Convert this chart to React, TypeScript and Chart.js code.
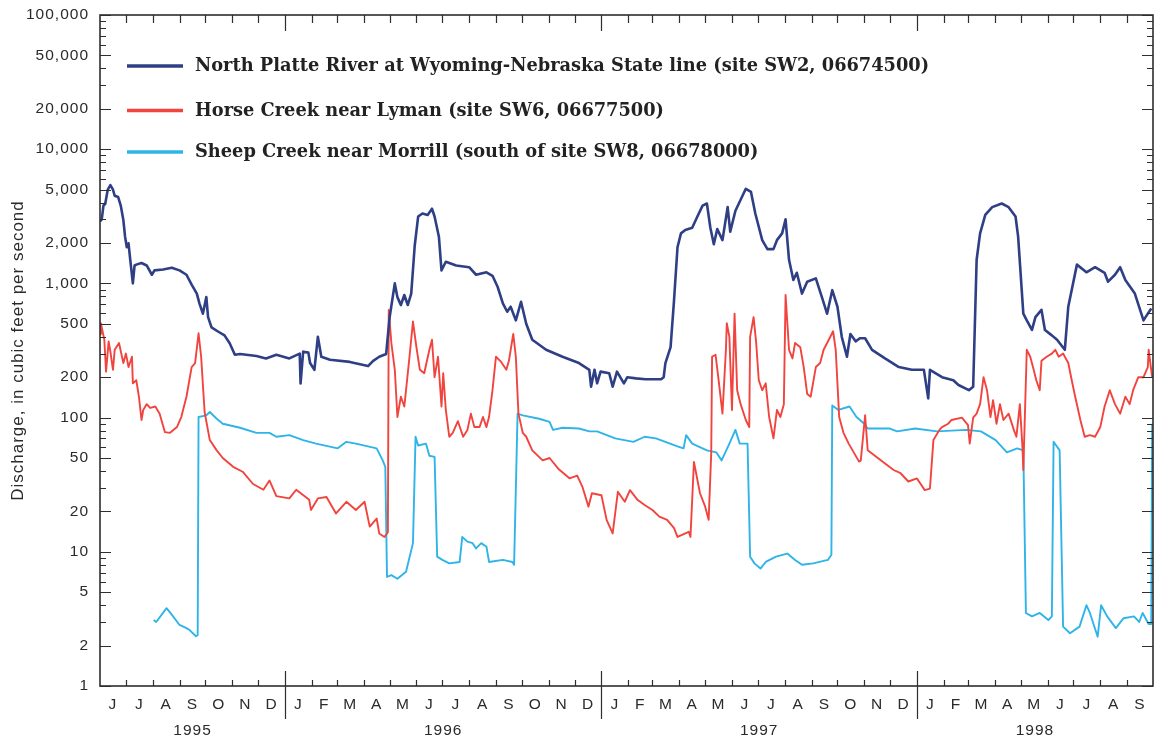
import React, { useEffect, useRef } from 'react';
import { Chart, registerables } from 'chart.js';

Chart.register(...registerables);

// Day numbers are counted from 1 June 1995 (day 0); values in cubic feet per second.
const northPlatte: number[][] = [
  [0, 2900], [2, 3000], [4, 3800], [6, 3900], [9, 5000], [12, 5400], [15, 5000], [17, 4500], [21, 4400], [24, 3800],
  [27, 2970], [29, 2230], [31, 1860], [33, 1990], [35, 1500], [38, 1000], [40, 1360], [42, 1380], [48, 1420], [54, 1360],
  [60, 1160], [63, 1250], [73, 1270], [83, 1310], [92, 1250], [100, 1160], [106, 980], [112, 840], [115, 710], [119, 595],
  [123, 790], [125, 560], [129, 470], [136, 440], [144, 410], [150, 358], [156, 294], [162, 298], [181, 288], [192, 276],
  [204, 294], [219, 276], [231, 300], [232, 180], [235, 310], [241, 305], [243, 255], [248, 227], [252, 400], [256, 284],
  [266, 270], [289, 260], [310, 242], [316, 265], [323, 284], [331, 298], [335, 560], [341, 1000], [344, 790], [348, 690],
  [352, 820], [356, 690], [360, 840], [364, 1900], [368, 3150], [373, 3320], [379, 3240], [384, 3600], [387, 3150], [392, 2230],
  [395, 1250], [400, 1450], [412, 1360], [427, 1320], [435, 1160], [447, 1210], [454, 1140], [460, 940], [466, 710], [471, 615],
  [475, 670], [481, 530], [487, 730], [493, 500], [500, 380], [516, 320], [535, 284], [554, 255], [566, 227], [568, 170],
  [572, 227], [575, 180], [579, 220], [589, 214], [593, 170], [598, 220], [606, 180], [610, 200], [620, 196], [631, 193],
  [649, 193], [652, 200], [654, 255], [660, 335], [664, 750], [668, 1860], [672, 2360], [677, 2500], [685, 2600], [691, 3150],
  [697, 3800], [702, 3940], [706, 2600], [710, 1960], [714, 2540], [720, 2100], [726, 3700], [729, 2430], [735, 3480], [741, 4200],
  [747, 5070], [753, 4800], [758, 3320], [766, 2100], [772, 1800], [779, 1800], [783, 2100], [789, 2360], [793, 3000], [797, 1500],
  [802, 1060], [806, 1200], [812, 840], [818, 1030], [828, 1090], [835, 790], [841, 595], [847, 890], [853, 670], [858, 400],
  [864, 284], [868, 420], [874, 370], [879, 390], [885, 390], [893, 320], [908, 276], [924, 238], [939, 227], [953, 227],
  [958, 139], [960, 227], [974, 200], [987, 190], [993, 175], [1005, 160], [1010, 170], [1014, 1500], [1018, 2360], [1024, 3240],
  [1032, 3700], [1043, 3940], [1051, 3700], [1059, 3150], [1062, 2230], [1068, 595], [1072, 530], [1078, 450], [1082, 560], [1089, 635],
  [1093, 450], [1101, 410], [1107, 380], [1116, 320], [1120, 670], [1130, 1380], [1141, 1210], [1151, 1320], [1162, 1200], [1166, 1030],
  [1174, 1160], [1180, 1320], [1186, 1060], [1197, 840], [1207, 530], [1212, 595], [1216, 650],
];

const horseCreek: number[][] = [
  [0, 420], [1, 505], [5, 380], [7, 220], [10, 370], [12, 310], [15, 227], [17, 320], [22, 360], [27, 255],
  [30, 300], [33, 238], [37, 284], [38, 180], [42, 190], [45, 143], [48, 96], [50, 114], [54, 126], [58, 118],
  [64, 121], [69, 107], [75, 78], [81, 77], [89, 85], [94, 101], [100, 143], [106, 238], [110, 255], [114, 425],
  [117, 284], [121, 110], [127, 68], [135, 57], [142, 50], [154, 43], [165, 39.5], [177, 32], [189, 29], [196, 34],
  [204, 26], [219, 25], [227, 29], [242, 24.4], [244, 20.5], [252, 25], [262, 25.6], [273, 19.3], [285, 23.6], [296, 20.5],
  [306, 23.6], [312, 15.4], [320, 17.7], [323, 13.7], [329, 12.9], [333, 14], [334, 635], [337, 360], [341, 227], [344, 101],
  [348, 143], [352, 121], [358, 284], [362, 520], [366, 335], [370, 227], [375, 214], [381, 320], [384, 380], [387, 200],
  [391, 284], [395, 121], [397, 214], [400, 114], [404, 72], [408, 77], [414, 94], [420, 72], [425, 81], [429, 107],
  [433, 85], [439, 85], [443, 101], [447, 85], [450, 101], [454, 160], [458, 284], [464, 260], [470, 227], [473, 265],
  [478, 420], [481, 284], [484, 107], [489, 77], [493, 72], [500, 57], [512, 48], [520, 50], [531, 41], [543, 35.3],
  [552, 37], [558, 30.5], [565, 21.7], [569, 27.3], [580, 26.4], [586, 17.3], [593, 13.7], [599, 28], [607, 23.6], [613, 28.8],
  [622, 24.3], [630, 22.3], [639, 20.5], [647, 18.3], [656, 17.3], [664, 15], [668, 12.9], [681, 14.1], [683, 12.9], [687, 46.8],
  [694, 27.3], [700, 21.7], [704, 17.3], [707, 54], [708, 284], [712, 294], [716, 180], [720, 107], [724, 320], [725, 505],
  [728, 400], [731, 114], [734, 595], [737, 160], [741, 126], [747, 96], [751, 85], [752, 400], [756, 560], [759, 360],
  [762, 190], [766, 160], [770, 180], [774, 101], [779, 70], [783, 114], [787, 101], [791, 126], [793, 820], [797, 320],
  [801, 276], [804, 360], [810, 335], [814, 238], [818, 150], [822, 143], [826, 200], [828, 238], [833, 255], [837, 320],
  [843, 380], [848, 440], [851, 320], [855, 101], [860, 77], [866, 64], [878, 47], [880, 48], [885, 104], [888, 57],
  [905, 47], [918, 40.7], [926, 38.5], [935, 33.4], [945, 35.2], [954, 28.8], [960, 29.6], [964, 68], [971, 81], [974, 85],
  [981, 90], [985, 96], [997, 100], [1004, 88], [1006, 64], [1010, 100], [1014, 107], [1018, 126], [1022, 200], [1026, 160],
  [1030, 101], [1033, 135], [1037, 90], [1041, 126], [1045, 96], [1051, 107], [1057, 81], [1060, 72], [1064, 126], [1067, 60],
  [1068, 40.7], [1072, 320], [1076, 284], [1080, 227], [1083, 190], [1087, 160], [1089, 265], [1095, 284], [1101, 300], [1105, 320],
  [1109, 284], [1114, 300], [1120, 255], [1124, 190], [1128, 143], [1134, 96], [1139, 72], [1145, 74], [1151, 72], [1157, 85],
  [1162, 121], [1168, 160], [1174, 126], [1180, 107], [1186, 143], [1191, 126], [1195, 160], [1201, 200], [1207, 200], [1212, 238],
  [1213, 320], [1217, 200],
];

const sheepCreek: number[][] = [
  [62, 3.1], [65, 3.0], [77, 3.8], [83, 3.4], [92, 2.85], [100, 2.7], [104, 2.6], [111, 2.35], [113, 2.4], [114, 101],
  [123, 104], [127, 110], [135, 98], [142, 90], [162, 84], [181, 77], [196, 77], [204, 72], [219, 74], [235, 68],
  [250, 64], [275, 59], [285, 66], [296, 64], [320, 59], [327, 48], [330, 43], [332, 6.5], [337, 6.7], [344, 6.3],
  [354, 7.1], [362, 11.6], [365, 72], [368, 62], [377, 64], [381, 52], [387, 51], [390, 9.2], [396, 8.7], [404, 8.2],
  [416, 8.4], [419, 12.9], [425, 11.9], [431, 11.6], [435, 10.6], [441, 11.6], [447, 10.9], [450, 8.4], [466, 8.7], [477, 8.4],
  [479, 8.0], [483, 107], [489, 104], [508, 98], [520, 93], [524, 81], [535, 84], [554, 83], [566, 79], [575, 79],
  [596, 70], [617, 66], [630, 72], [643, 70], [668, 61], [675, 59], [678, 74], [685, 64], [702, 57], [713, 55],
  [719, 48], [728, 64], [735, 81], [740, 64], [749, 64], [752, 9.2], [757, 8.2], [764, 7.5], [770, 8.4], [782, 9.2],
  [795, 9.7], [804, 8.7], [812, 8.0], [825, 8.2], [842, 8.7], [846, 9.5], [847, 123], [854, 114], [867, 121], [875, 101],
  [884, 90], [888, 83], [913, 83], [922, 79], [943, 83], [968, 79], [1002, 81], [1019, 79], [1036, 68], [1049, 55],
  [1061, 59], [1068, 57], [1071, 3.5], [1078, 3.3], [1087, 3.5], [1097, 3.1], [1101, 3.3], [1103, 66], [1110, 57], [1114, 2.77],
  [1122, 2.47], [1133, 2.77], [1141, 4.0], [1145, 3.5], [1154, 2.33], [1158, 4.0], [1165, 3.3], [1175, 2.7], [1184, 3.2], [1196, 3.3],
  [1202, 3.0], [1206, 3.5], [1213, 2.9], [1216, 2.9], [1217, 90],
];

const seriesNames = [
  'North Platte River at Wyoming-Nebraska State line (site SW2, 06674500)',
  'Horse Creek near Lyman (site SW6, 06677500)',
  'Sheep Creek near Morrill (south of site SW8, 06678000)',
];

const monthLabels = [
  'J', 'J', 'A', 'S', 'O', 'N', 'D',
  'J', 'F', 'M', 'A', 'M', 'J', 'J', 'A', 'S', 'O', 'N', 'D',
  'J', 'F', 'M', 'A', 'M', 'J', 'J', 'A', 'S', 'O', 'N', 'D',
  'J', 'F', 'M', 'A', 'M', 'J', 'J', 'A', 'S',
];
const yearLabels = ['1995', '1996', '1997', '1998'];
const yLabelledTicks = [1, 2, 5, 10, 20, 50, 100, 200, 500, 1000, 2000, 5000, 10000, 20000, 50000, 100000];
const yAxisTitle = 'Discharge, in cubic feet per second';

// ---- derived helpers ----
const START = Date.UTC(1995, 5, 1);
const DAY = 86400000;
const monthStarts: number[] = [];
for (let i = 0; i <= monthLabels.length; i++) {
  const y = 1995 + Math.floor((5 + i) / 12);
  const m = (5 + i) % 12;
  monthStarts.push((Date.UTC(y, m, 1) - START) / DAY);
}
const X_MAX = monthStarts[monthStarts.length - 1];
const monthMids = monthLabels.map((_, i) => (monthStarts[i] + monthStarts[i + 1]) / 2);
const yearStarts = [0, ...monthStarts.filter((d, i) => i > 0 && i < monthLabels.length && (5 + i) % 12 === 0), X_MAX];
const yearMids = yearLabels.map((_, i) => (yearStarts[i] + yearStarts[i + 1]) / 2);
const yAllTicks: number[] = [];
for (let e = 0; e < 5; e++) for (let m = 1; m <= 9; m++) yAllTicks.push(m * Math.pow(10, e));
yAllTicks.push(100000);

const AXIS = '#2e2e2e';
const TEXT = '#2a2a2a';
const SANS = "'Liberation Sans', Arial, sans-serif";
const COLORS = ['#2e3f86', '#f2443e', '#2fb4e8'];

const framePlugin = {
  id: 'frameTicks',
  beforeDraw(chart: any) {
    chart.ctx.letterSpacing = '1px';
  },
  afterDatasetsDraw(chart: any) {
    const { ctx, chartArea: a, scales } = chart;
    const xs = scales.x;
    const ys = scales.y;
    ctx.save();
    ctx.letterSpacing = '0px';
    ctx.strokeStyle = AXIS;
    ctx.lineWidth = 1.6;
    ctx.strokeRect(a.left, a.top, a.right - a.left, a.bottom - a.top);
    ctx.lineWidth = 1.2;
    ctx.beginPath();
    yAllTicks.forEach((v) => {
      const py = Math.round(ys.getPixelForValue(v)) + 0.5;
      const len = yLabelledTicks.includes(v) ? 11 : 6;
      ctx.moveTo(a.left, py);
      ctx.lineTo(a.left + len, py);
      ctx.moveTo(a.right, py);
      ctx.lineTo(a.right - len, py);
    });
    for (let i = 1; i < monthLabels.length; i++) {
      const px = Math.round(xs.getPixelForValue(monthStarts[i])) + 0.5;
      const isYear = (5 + i) % 12 === 0;
      if (isYear) {
        ctx.moveTo(px, a.bottom - 15);
        ctx.lineTo(px, a.bottom + 33);
      } else {
        ctx.moveTo(px, a.bottom);
        ctx.lineTo(px, a.bottom - 6);
      }
      ctx.moveTo(px, a.top);
      ctx.lineTo(px, a.top + (isYear ? 16 : 8));
    }
    ctx.stroke();
    ctx.restore();
  },
  afterDraw(chart: any) {
    // series key drawn inside the plot, top-left
    const { ctx, chartArea: a } = chart;
    const rowOffsets = [51, 95.5, 137];
    ctx.save();
    ctx.letterSpacing = '0px';
    chart.data.datasets.forEach((ds: any, i: number) => {
      const y = a.top + rowOffsets[i];
      ctx.strokeStyle = ds.borderColor;
      ctx.lineWidth = 3.5;
      ctx.beginPath();
      ctx.moveTo(a.left + 27, y);
      ctx.lineTo(a.left + 83, y);
      ctx.stroke();
      ctx.fillStyle = '#222';
      ctx.font = "bold 17.8px 'DejaVu Serif', serif";
      ctx.textBaseline = 'middle';
      ctx.textAlign = 'left';
      ctx.fillText(ds.label, a.left + 95, y + 0.5);
    });
    ctx.restore();
  },
};

const mk = (pairs: number[][]) => pairs.map(([d, v]) => ({ x: d, y: v }));

export default function App() {
  const ref = useRef<HTMLCanvasElement>(null);
  useEffect(() => {
    const widths = [2.6, 1.9, 1.9];
    const all = [northPlatte, horseCreek, sheepCreek];
    const chart = new Chart(ref.current as HTMLCanvasElement, {
      type: 'line',
      data: {
        datasets: all.map((s, i) => ({
          label: seriesNames[i],
          data: mk(s),
          borderColor: COLORS[i],
          backgroundColor: COLORS[i],
          borderWidth: widths[i],
          pointRadius: 0,
          tension: 0,
          fill: false,
          borderJoinStyle: 'round',
        })),
      },
      options: {
        responsive: false,
        animation: false,
        events: [],
        layout: { padding: { left: 0, top: 15, right: 2, bottom: 0 } },
        plugins: {
          tooltip: { enabled: false },
          legend: { display: false },
        },
        scales: {
          x: {
            type: 'linear',
            position: 'bottom',
            weight: 0,
            min: 0,
            max: X_MAX,
            afterBuildTicks: (s: any) => { s.ticks = monthMids.map((v) => ({ value: v })); },
            afterFit: (s: any) => { s.height = 27; },
            grid: { display: false },
            border: { display: false },
            ticks: {
              autoSkip: false,
              maxRotation: 0,
              padding: 1,
              color: TEXT,
              font: { family: SANS, size: 15.5 },
              callback: (_v: any, i: number) => monthLabels[i],
            },
          },
          x2: {
            type: 'linear',
            position: 'bottom',
            weight: 1,
            min: 0,
            max: X_MAX,
            afterBuildTicks: (s: any) => { s.ticks = yearMids.map((v) => ({ value: v })); },
            afterFit: (s: any) => { s.height = 25; },
            grid: { display: false },
            border: { display: false },
            ticks: {
              autoSkip: false,
              maxRotation: 0,
              padding: 0,
              color: TEXT,
              font: { family: SANS, size: 15.5 },
              callback: (_v: any, i: number) => yearLabels[i],
            },
          },
          y: {
            type: 'logarithmic',
            position: 'left',
            min: 1,
            max: 100000,
            afterBuildTicks: (s: any) => { s.ticks = yAllTicks.map((v) => ({ value: v })); },
            afterFit: (s: any) => { s.width = 100; },
            grid: { display: false },
            border: { display: false },
            ticks: {
              autoSkip: false,
              padding: 3,
              color: TEXT,
              font: { family: SANS, size: 15.5 },
              callback: (v: any) => (yLabelledTicks.includes(Number(v)) ? Number(v).toLocaleString('en-US') : ''),
            },
            title: {
              display: true,
              text: yAxisTitle,
              color: TEXT,
              font: { family: SANS, size: 17 },
              padding: { top: 8, bottom: 0 },
            },
          },
        },
      } as any,
      plugins: [framePlugin],
    } as any);
    return () => chart.destroy();
  }, []);
  return (
    <div style={{ position: 'fixed', left: 0, top: 0, width: 1155, height: 738, background: '#fff' }}>
      <canvas ref={ref} width={1155} height={738} style={{ display: 'block', width: 1155, height: 738 }} />
    </div>
  );
}
